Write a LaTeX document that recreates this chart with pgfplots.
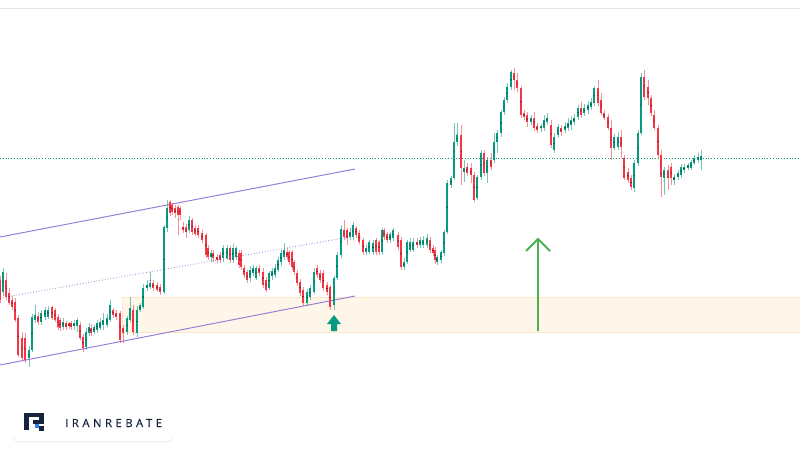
\documentclass[border=0pt]{standalone}
\usepackage{pgfplots}
\pgfplotsset{compat=1.18}
\usepackage{pgfplotstable}
\usepackage{fontspec}
\usetikzlibrary{shadows}
\newfontfamily\logofont[LetterSpace=32, FakeBold=0.4]{Open Sans}
\definecolor{cup}{HTML}{089981}
\definecolor{cdn}{HTML}{F23645}
\definecolor{chan}{HTML}{9B7FD6}
\definecolor{zonefill}{HTML}{FFF6EA}
\definecolor{zoneline}{HTML}{FDE6C8}
\definecolor{arrowgreen}{HTML}{4CAF50}
\definecolor{navy}{HTML}{15233F}
\definecolor{logoblue}{HTML}{2F7DF6}

% columns: x, wick top, body top, body bottom, wick bottom (picture units, y grows downward)
\pgfplotstableread{
x wt bt bb wb
3 268 272 292 296
29 346 350 358 367
32 314 317 350 352
35 305 315 320 323
41 310 313 322 325
45 307 310 317 320
48 306 310 317 319
63 318 322 327 330
74 320 323 326 330
77 318 320 326 332
86 328 332 347 350
89 323 327 333 336
94 325 327 332 334
97 320 323 330 333
100 318 322 328 330
103 313 320 325 330
107 314 318 325 327
110 300 305 320 322
127 316 318 332 335
130 297 308 320 322
137 306 310 333 337
140 303 305 310 312
143 284 288 307 309
147 280 285 288 291
150 272 283 287 289
164 225 227 292 294
167 200 208 228 232
189 216 220 230 233
211 250 253 257 262
223 245 248 258 262
227 245 248 258 260
233 244 248 260 263
236 246 248 257 260
250 266 270 278 282
253 265 268 273 276
256 266 268 278 280
269 271 273 288 290
272 268 271 276 280
275 264 268 275 278
278 257 260 270 272
281 250 253 262 266
284 243 250 257 260
307 289 292 303 306
310 285 288 297 300
314 268 272 292 294
334 276 278 305 310
337 252 255 278 280
341 225 229 255 258
350 228 232 237 240
353 222 225 237 240
366 245 248 252 255
369 240 242 252 254
373 240 243 252 255
382 228 230 252 255
390 232 234 240 243
393 228 230 238 241
404 258 262 267 270
407 240 242 262 264
410 238 242 250 252
413 238 242 250 252
420 237 240 245 248
423 236 240 245 248
427 234 238 245 248
437 255 257 262 265
441 250 252 260 263
444 230 232 253 256
447 180 183 232 234
451 176 178 185 188
454 123 142 178 180
457 123 135 142 146
464 160 168 172 182
477 175 177 198 200
481 150 153 177 180
487 157 160 173 183
494 133 142 160 163
497 130 133 142 153
501 110 112 133 137
504 97 100 112 115
507 83 87 100 103
511 70 72 87 90
531 115 118 122 125
541 124 126 128 132
544 115 120 128 131
547 113 118 122 125
554 133 137 150 153
558 124 127 135 138
565 122 126 130 133
568 118 123 128 131
571 116 120 125 130
574 114 118 122 125
578 105 108 117 120
584 104 108 113 116
588 101 105 110 114
591 98 102 107 110
594 86 88 103 106
614 134 137 148 150
618 132 137 147 150
634 160 163 188 192
638 130 133 163 166
641 73 77 133 135
664 167 170 178 195
674 174 177 180 185
678 170 173 177 180
681 164 167 175 178
684 164 167 170 173
688 163 165 168 170
691 160 162 168 170
694 155 158 163 165
698 153 157 160 163
701 150 156 160 170
}\upcandles

\pgfplotstableread{
x wt bt bb wb
0 276 280 300 303
6 273 280 297 300
9 288 293 303 305
12 296 300 307 310
15 298 302 320 322
18 315 318 355 357
22 332 338 358 360
25 333 338 360 363
38 312 316 322 325
52 306 307 318 320
55 308 310 320 322
58 314 317 327 330
60 318 320 328 331
66 321 323 327 330
69 322 323 326 329
71 321 323 327 330
80 322 325 338 340
83 334 337 348 352
91 324 328 333 336
113 308 310 315 318
116 310 313 317 320
120 311 313 340 343
123 325 328 333 343
133 305 310 332 335
153 280 283 288 291
157 282 285 290 292
160 284 287 292 295
170 200 202 213 216
172 203 205 212 215
175 205 208 213 218
178 205 207 215 235
180 206 208 215 220
183 222 227 230 233
186 224 227 232 238
192 218 220 232 235
195 225 228 234 236
198 225 228 235 238
202 230 233 240 243
206 233 235 255 258
208 245 248 257 260
213 250 253 258 262
217 254 257 260 263
220 252 255 260 263
230 246 248 260 263
239 250 253 265 268
241 250 253 267 270
244 265 268 275 278
247 270 272 280 283
259 265 268 273 276
263 268 272 285 288
266 277 280 290 292
287 248 252 257 260
289 250 252 262 265
292 250 252 267 270
294 260 262 272 275
297 270 273 283 286
300 279 282 293 296
303 287 290 303 306
317 265 268 275 278
320 270 273 280 283
323 270 273 288 291
327 282 285 292 295
330 285 287 307 310
344 220 230 237 240
347 228 230 238 245
356 226 228 235 238
359 230 233 242 244
363 238 240 252 255
376 238 240 252 255
379 240 242 252 255
384 228 230 237 240
387 232 234 240 243
398 232 235 247 250
401 237 240 267 270
417 238 242 245 248
430 237 240 250 253
433 245 248 253 256
435 247 250 260 264
461 125 135 168 185
467 163 167 173 176
471 163 168 175 183
474 172 175 200 202
484 150 153 173 176
491 153 160 167 170
514 68 73 80 90
517 73 80 88 92
521 86 88 115 118
524 110 113 117 120
527 112 115 122 127
534 112 118 128 131
537 123 126 130 133
551 120 125 145 148
561 125 128 132 136
581 102 108 115 118
598 80 88 103 106
601 93 100 113 115
604 110 113 118 120
608 114 117 128 130
611 120 128 148 160
621 130 137 147 158
624 155 158 178 180
628 168 172 180 183
631 175 178 187 190
644 70 77 97 100
648 80 87 98 105
651 95 98 113 116
654 110 115 128 130
658 125 128 155 158
661 150 155 177 197
668 165 170 178 190
671 163 167 178 185
}\dncandles

\pgfplotsset{
  wick/.style={only marks, mark=*, mark size=0.01pt, mark options={draw=none, fill=none}, forget plot,
    error bars/.cd, y dir=both, y explicit, error mark=none,
    error bar style={line width=0.9pt, draw=#1, draw opacity=0.55}},
  body/.style={only marks, mark=*, mark size=0.01pt, mark options={draw=none, fill=none}, forget plot,
    error bars/.cd, y dir=both, y explicit, error mark=none,
    error bar style={line width=2.4pt, draw=#1}},
}

\begin{document}
\begin{tikzpicture}
\begin{axis}[
  width=800pt, height=450pt, scale only axis,
  xmin=0, xmax=800, ymin=0, ymax=450, y dir=reverse,
  hide axis, clip=true,
]
% background
\fill[white] (0,0) rectangle (800,450);
% top border line
\draw[color=black!10, line width=0.6pt] (0,8) -- (800,8);
% support zone
\fill[zonefill] (122,297) rectangle (800,332);
\draw[zoneline, line width=0.6pt] (122,332) -- (122,297) -- (800,297);
\draw[zoneline, line width=0.6pt] (122,332) -- (800,332);
% horizontal dotted level
\draw[draw=cup, line width=0.8pt, dotted] (0,158) -- (800,158);
% channel
\draw[chan, line width=1pt] (0,237) -- (355,169);
\draw[chan, line width=0.8pt, dotted] (0,298) -- (355,236);
\draw[chan, line width=1pt] (0,365) -- (355,296);

% candles
\addplot[wick=cup] table[x=x, y expr={(\thisrow{wt}+\thisrow{wb})/2}, y error expr={(\thisrow{wb}-\thisrow{wt})/2}] {\upcandles};
\addplot[wick=cdn] table[x=x, y expr={(\thisrow{wt}+\thisrow{wb})/2}, y error expr={(\thisrow{wb}-\thisrow{wt})/2}] {\dncandles};
\addplot[body=cup] table[x=x, y expr={(\thisrow{bt}+\thisrow{bb})/2}, y error expr={(\thisrow{bb}-\thisrow{bt})/2}] {\upcandles};
\addplot[body=cdn] table[x=x, y expr={(\thisrow{bt}+\thisrow{bb})/2}, y error expr={(\thisrow{bb}-\thisrow{bt})/2}] {\dncandles};

% small block arrow
\fill[cup] (327,324) -- (334,315) -- (341,324) -- (337,324) -- (337,331) -- (331,331) -- (331,324) -- cycle;
% big green arrow
\draw[arrowgreen, line width=1.8pt] (538,331) -- (538,239);
\draw[arrowgreen, line width=1.8pt, line join=miter] (526,251) -- (538,239) -- (550,251);

% logo box
\fill[white, rounded corners=6pt, drop shadow={shadow xshift=0pt, shadow yshift=-1.5pt, opacity=0.12}] (13,405) rectangle (173,441);
\fill[navy] (24,413) rectangle (29,430);
\fill[navy] (24,413) rectangle (44,417);
\fill[navy] (39,413) rectangle (44,424);
\fill[navy] (33,420) rectangle (44,424);
\fill[logoblue] (35,424) rectangle (39,428);
\fill[navy] (39,426) rectangle (44,431);
\node[anchor=west, inner sep=0pt, text=navy, font=\logofont\fontsize{11.2}{13}\selectfont] at (65,423) {IRANREBATE};
\end{axis}
\end{tikzpicture}
\end{document}
